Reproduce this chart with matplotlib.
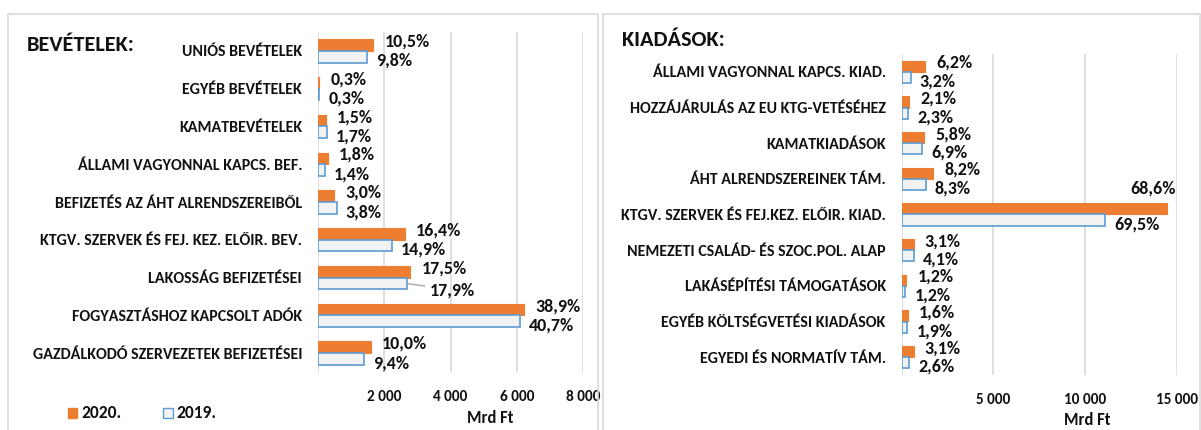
import matplotlib
matplotlib.use("Agg")
import matplotlib.pyplot as plt
from matplotlib.patches import Rectangle
import numpy as np

plt.rcParams['font.family'] = ['Carlito', 'DejaVu Sans']

# ---------------- data ----------------
rev_categories = ["UNIÓS BEVÉTELEK", "EGYÉB BEVÉTELEK", "KAMATBEVÉTELEK",
                  "ÁLLAMI VAGYONNAL KAPCS. BEF.", "BEFIZETÉS AZ ÁHT ALRENDSZEREIBŐL",
                  "KTGV. SZERVEK ÉS FEJ. KEZ. ELŐIR. BEV.", "LAKOSSÁG BEFIZETÉSEI",
                  "FOGYASZTÁSHOZ KAPCSOLT ADÓK", "GAZDÁLKODÓ SZERVEZETEK BEFIZETÉSEI"]
rev_2020 = [1670, 45, 240, 290, 475, 2615, 2790, 6215, 1595]
rev_2019 = [1465, 45, 260, 215, 565, 2235, 2675, 6100, 1400]
rev_pct_2020 = ["10,5%", "0,3%", "1,5%", "1,8%", "3,0%", "16,4%", "17,5%", "38,9%", "10,0%"]
rev_pct_2019 = ["9,8%", "0,3%", "1,7%", "1,4%", "3,8%", "14,9%", "17,9%", "40,7%", "9,4%"]
rev_ticks = [2000, 4000, 6000, 8000]
rev_ticklabels = ["2 000", "4 000", "6 000", "8 000"]

exp_categories = ["ÁLLAMI VAGYONNAL KAPCS. KIAD.", "HOZZÁJÁRULÁS AZ EU KTG-VETÉSÉHEZ",
                  "KAMATKIADÁSOK", "ÁHT ALRENDSZEREINEK TÁM.",
                  "KTGV. SZERVEK ÉS FEJ.KEZ. ELŐIR. KIAD.", "NEMEZETI CSALÁD- ÉS SZOC.POL. ALAP",
                  "LAKÁSÉPÍTÉSI TÁMOGATÁSOK", "EGYÉB KÖLTSÉGVETÉSI KIADÁSOK",
                  "EGYEDI ÉS NORMATÍV TÁM."]
exp_2020 = [1295, 420, 1215, 1710, 14450, 650, 255, 340, 650]
exp_2019 = [490, 350, 1105, 1320, 11105, 650, 195, 305, 415]
exp_pct_2020 = ["6,2%", "2,1%", "5,8%", "8,2%", "68,6%", "3,1%", "1,2%", "1,6%", "3,1%"]
exp_pct_2019 = ["3,2%", "2,3%", "6,9%", "8,3%", "69,5%", "4,1%", "1,2%", "1,9%", "2,6%"]
exp_ticks = [5000, 10000, 15000]
exp_ticklabels = ["5 000", "10 000", "15 000"]

series_names = ["2020.", "2019."]
unit_label = "Mrd Ft"

# ---------------- style ----------------
ORANGE = "#ED7D31"
BLUE = "#5B9BD5"
FILL19 = "#F2F2F2"
GRID = "#D9D9D9"
TXT = "#111111"
# labels that were pulled away from their bar (with a leader line) in the original
MOVED_2019_LABELS = {"rev": {6: (17, -5)}}

W, H = 1201, 430
fig = plt.figure(figsize=(W / 100, H / 100), dpi=100)

def fx(px):
    return px / W

def fy(py):
    return 1 - py / H

# panel borders
for (x0, x1) in [(8, 598), (603, 1200)]:
    fig.patches.append(Rectangle((fx(x0), fy(432)), fx(x1 - x0), (432 - 14) / H,
                                 transform=fig.transFigure, fill=False,
                                 edgecolor=GRID, linewidth=1.2))

def panel(rect_px, cats, v20, v19, p20, p19, xmax, ticks, ticklabels, moved):
    left, top, right, bottom = rect_px
    ax = fig.add_axes([fx(left), fy(bottom), fx(right - left), (bottom - top) / H])
    n = len(cats)
    y = np.arange(n)
    h = 0.31
    ax.barh(y - h / 2, v20, height=h, color=ORANGE, edgecolor=ORANGE, linewidth=0.8, zorder=3)
    ax.barh(y + h / 2, v19, height=h, color=FILL19, edgecolor=BLUE, linewidth=1.2, zorder=3)
    ax.set_xlim(0, xmax)
    ax.set_ylim(n - 0.5, -0.5)
    ax.set_yticks(y)
    ax.set_yticklabels(cats, fontsize=11.5, fontweight='bold', color=TXT)
    ax.set_xticks(ticks)
    ax.set_xticklabels(ticklabels, fontsize=11, fontweight='bold', color=TXT)
    ax.tick_params(axis='y', length=0, pad=11.5)
    ax.tick_params(axis='x', length=0, pad=13)
    for s in ax.spines.values():
        s.set_visible(False)
    ax.axvline(0, color=GRID, lw=1.2, zorder=1)
    ax.grid(axis='x', color=GRID, lw=1.2, zorder=0)
    ax.set_axisbelow(True)
    ax.set_facecolor('none')
    for i in range(n):
        if v20[i] > 0.9 * xmax:
            ax.annotate(p20[i], (v20[i], i - h / 2), xytext=(7, 15), textcoords='offset points',
                        ha='right', va='center', fontsize=13, fontweight='bold', color=TXT)
        else:
            ax.annotate(p20[i], (v20[i], i - h / 2), xytext=(8, 2.5), textcoords='offset points',
                        ha='left', va='center', fontsize=13, fontweight='bold', color=TXT)
        if i in moved:
            ax.annotate(p19[i], (v19[i], i + h / 2), xytext=moved[i], textcoords='offset points',
                        ha='left', va='center', fontsize=13, fontweight='bold', color=TXT,
                        arrowprops=dict(arrowstyle='-', color='#A6A6A6', lw=1,
                                        shrinkA=2, shrinkB=0))
        else:
            ax.annotate(p19[i], (v19[i], i + h / 2), xytext=(6.5, -3), textcoords='offset points',
                        ha='left', va='center', fontsize=13, fontweight='bold', color=TXT)
    return ax

ax1 = panel((318, 32, 583, 372), rev_categories, rev_2020, rev_2019,
            rev_pct_2020, rev_pct_2019, 8000, rev_ticks, rev_ticklabels,
            MOVED_2019_LABELS.get("rev", {}))
ax2 = panel((901.7, 54, 1176.7, 375), exp_categories, exp_2020, exp_2019,
            exp_pct_2020, exp_pct_2019, 15000, exp_ticks, exp_ticklabels,
            MOVED_2019_LABELS.get("exp", {}))

# titles
fig.text(fx(27), fy(45), "BEVÉTELEK:", fontsize=16, fontweight='bold', color=TXT,
         ha='left', va='center')
fig.text(fx(622), fy(40), "KIADÁSOK:", fontsize=16, fontweight='bold', color=TXT,
         ha='left', va='center')

# unit labels
fig.text(fx(490), fy(418), unit_label, fontsize=12, fontweight='bold', color=TXT,
         ha='center', va='center')
fig.text(fx(1087), fy(420), unit_label, fontsize=12, fontweight='bold', color=TXT,
         ha='center', va='center')

# legend
fig.patches.append(Rectangle((fx(68), fy(418)), fx(9), 10 / H, transform=fig.transFigure,
                             facecolor=ORANGE, edgecolor=ORANGE))
fig.text(fx(81), fy(413), series_names[0], fontsize=12.5, fontweight='bold', color=TXT,
         ha='left', va='center')
fig.patches.append(Rectangle((fx(163), fy(418)), fx(10), 10 / H, transform=fig.transFigure,
                             facecolor=FILL19, edgecolor=BLUE, linewidth=1))
fig.text(fx(176), fy(413), series_names[1], fontsize=12.5, fontweight='bold', color=TXT,
         ha='left', va='center')

fig.savefig("out.png", dpi=100, facecolor='white')
